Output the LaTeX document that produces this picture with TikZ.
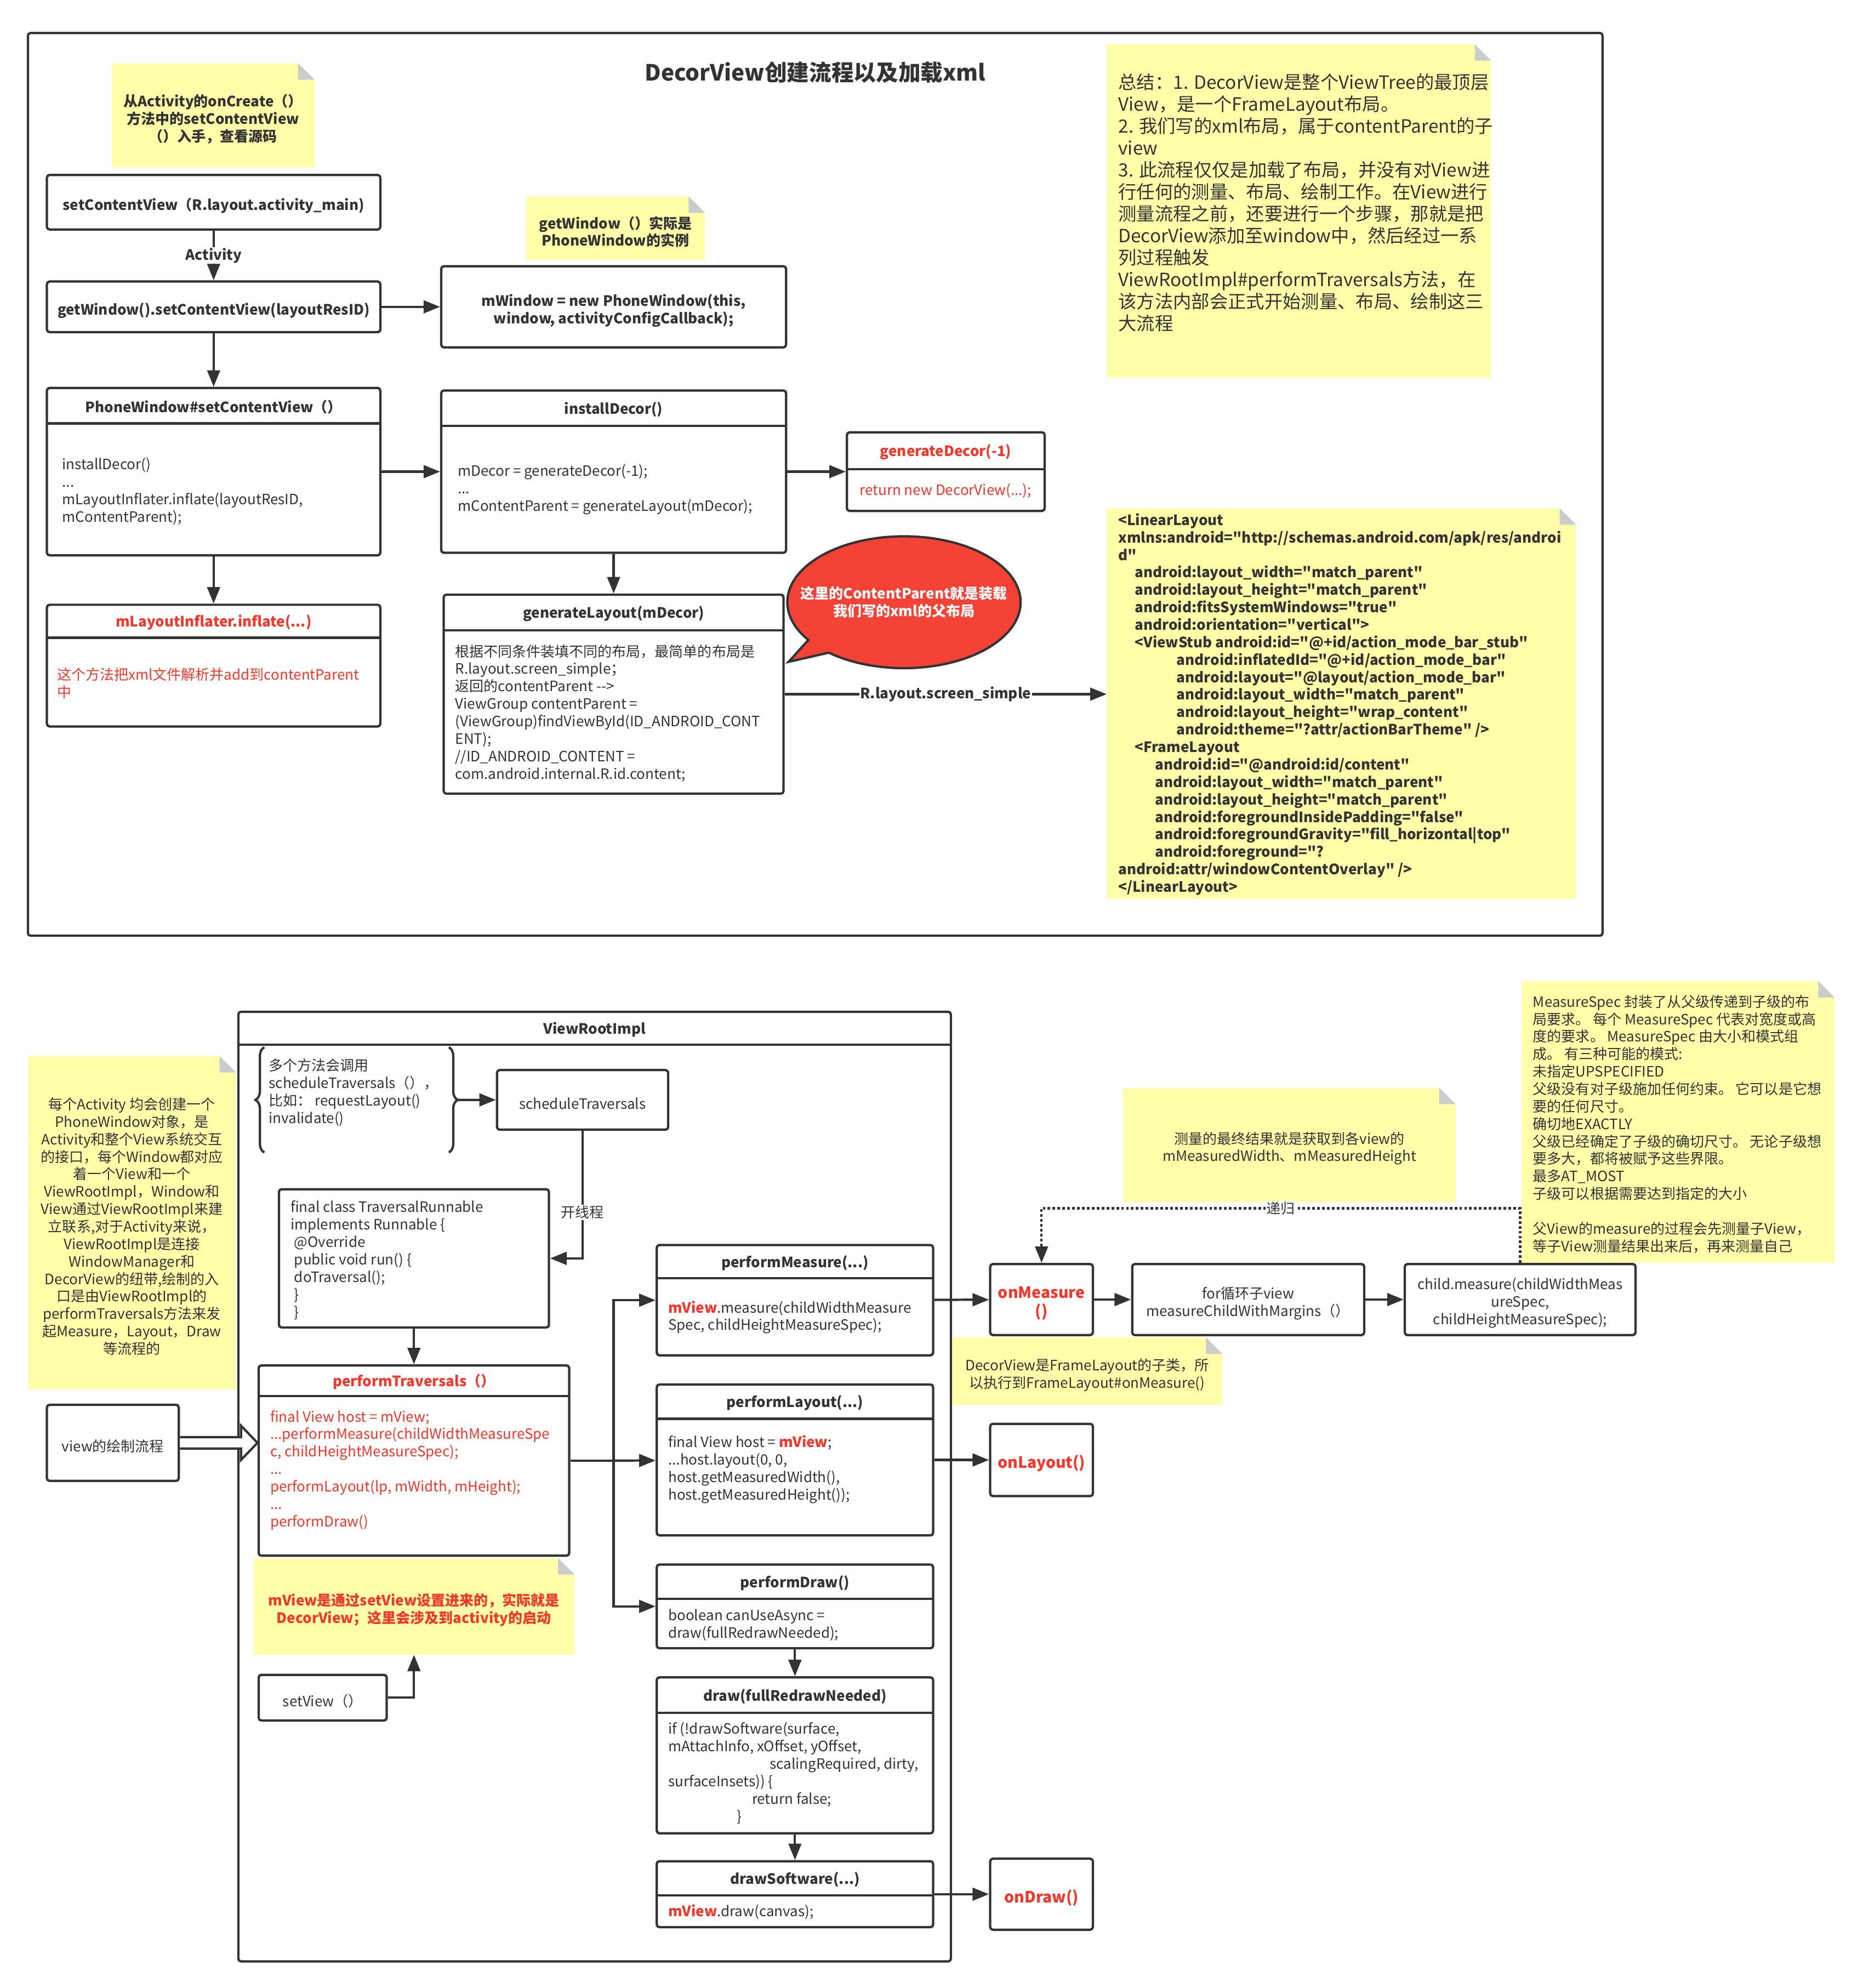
\documentclass[tikz,border=0pt]{standalone}
\usepackage{fontspec}
\setmainfont{Noto Sans CJK SC}
\usetikzlibrary{arrows.meta, fit, calc, shapes.callouts, decorations.pathreplacing}

\definecolor{linegray}{HTML}{333333}
\definecolor{noteyellow}{HTML}{FFFFAA}
\definecolor{foldgray}{HTML}{CCCCCC}
\definecolor{codered}{HTML}{F2382B}
\definecolor{bubblered}{HTML}{F44336}

\newcommand{\fsnorm}{\fontsize{16}{19.6}\selectfont}
\newcommand{\fssum}{\fontsize{20.5}{24.6}\selectfont}
\newcommand{\fstitle}{\fontsize{25}{30}\selectfont}
\newcommand{\fscall}{\fontsize{17.5}{21}\selectfont}
\newcommand{\mview}{{\color{codered}\bfseries mView}}
\newcommand{\qmark}{\textquotedbl}
% 便签右上角的折角
\newcommand{\foldnote}[1]{%
  \fill[white] ($(#1.north east)+(-13,0)$) -- (#1.north east) -- ($(#1.north east)+(0,13)$) -- cycle;
  \fill[foldgray] ($(#1.north east)+(-13,0)$) -- ($(#1.north east)+(-13,13)$) -- ($(#1.north east)+(0,13)$) -- cycle;}

\tikzset{
  outerframe/.style={draw=linegray, line width=2.6pt, rounded corners=3pt, inner sep=0pt},
  box/.style={draw=linegray, line width=2.6pt, rounded corners=3pt, fill=white, inner sep=0pt},
  note/.style={fill=noteyellow, inner sep=0pt},
  txt/.style={font=\fsnorm, align=center, yshift=-0.14cm},
  head/.style={font=\fsnorm\bfseries, inner sep=0pt, yshift=-0.05cm},
  body/.style={font=\fsnorm, align=left, anchor=west, inner sep=0pt},
  divider/.style={draw=linegray, line width=2.6pt},
  conn/.style={draw=linegray, line width=2.6pt},
  arr/.style={draw=linegray, line width=2.6pt, -{Triangle[length=0.65cm, width=0.5cm]}},
  recur/.style={draw=linegray, line width=2.6pt, dash pattern=on 3pt off 2.5pt, -{Triangle[length=0.65cm, width=0.5cm]}},
  curly/.style={draw=linegray, line width=2.6pt, decorate, decoration={brace, amplitude=0.35cm}},
  hollow/.style={draw=linegray, line width=2.6pt, fill=white, line join=miter},
}

\begin{document}
\begin{tikzpicture}[x=0.05cm, y=-0.05cm, every node/.style={text=linegray}]
\useasboundingbox (0,0) rectangle (1469,1568);

% ===== 上半部分：DecorView创建流程 =====
\node[outerframe, fit={(22,26) (1264,738)}] (topframe) {};
\node[font=\fstitle\bfseries] (title) at (643,57) {DecorView创建流程以及加载xml};

\node[note, fit={(88,50) (248,132)}] (startnote) {};
\foldnote{startnote}
\node[txt, font=\fsnorm\bfseries] (starttext) at (startnote) {从Activity的onCreate（）\\方法中的setContentView\\（）入手，查看源码};

\node[box, fit={(37,138) (300,181)}] (setcv) {};
\node[txt, font=\fsnorm\bfseries] (setcvtext) at (setcv) {setContentView（R.layout.activity\_main)};
\node[box, fit={(37,222) (300,262)}] (getwin) {};
\node[txt, font=\fsnorm\bfseries] (getwintext) at (getwin) {getWindow().setContentView(layoutResID)};
\draw[arr] (setcv) -- (getwin) node[midway, fill=white, font=\fsnorm\bfseries, inner sep=1pt] (actlabel) {Activity};

\node[note, fit={(415,155) (556,205)}] (winnote) {};
\foldnote{winnote}
\node[txt, font=\fsnorm\bfseries] (winnotetext) at (winnote) {getWindow（）实际是\\PhoneWindow的实例};
\node[box, fit={(348,210) (620,274)}] (newwin) {};
\node[txt, font=\fsnorm\bfseries] (newwintext) at (newwin) {mWindow = new PhoneWindow(this,\\window, activityConfigCallback);};
\draw[arr] (getwin) -- (newwin);

% PhoneWindow#setContentView
\node[box, fit={(37,306) (300,438)}] (pwset) {};
\draw[divider] (37,334) -- (300,334);
\node[head] (pwsethead) at (168.5,320) {PhoneWindow\#setContentView（）};
\node[body] (pwsetbody) at (49,387.5) {installDecor()\\...\\mLayoutInflater.inflate(layoutResID,\\mContentParent);};
\draw[arr] (getwin) -- (pwset);

% installDecor
\node[box, fit={(348,308) (620,436)}] (instdecor) {};
\draw[divider] (348,336) -- (620,336);
\node[head] (instdecorhead) at (484,322) {installDecor()};
\node[body] (instdecorbody) at (361,386) {mDecor = generateDecor(-1);\\...\\mContentParent = generateLayout(mDecor);};
\draw[arr] (pwset) -- (instdecor);

% generateDecor
\node[box, fit={(668,341) (824,403)}] (gendecor) {};
\draw[divider] (668,370) -- (824,370);
\node[head, text=codered] (gendecorhead) at (746,355.5) {generateDecor(-1)};
\node[body, text=codered] (gendecorbody) at (678,387) {return new DecorView(...);};
\draw[arr] (instdecor) -- (gendecor);

% generateLayout
\node[box, fit={(350,469) (618,626)}] (genlayout) {};
\draw[divider] (350,497) -- (618,497);
\node[head] (genlayouthead) at (484,483) {generateLayout(mDecor)};
\node[body] (genlayoutbody) at (359,562.5) {根据不同条件装填不同的布局，最简单的布局是\\R.layout.screen\_simple；\\返回的contentParent -{}->\\ViewGroup contentParent =\\(ViewGroup)findViewById(ID\_ANDROID\_CONT\\ENT);\\//ID\_ANDROID\_CONTENT =\\com.android.internal.R.id.content;};
\draw[arr] (instdecor) -- (genlayout);

% mLayoutInflater.inflate
\node[box, fit={(37,477) (300,573)}] (inflate) {};
\draw[divider] (37,503) -- (300,503);
\node[head, text=codered] (inflatehead) at (168.5,490) {mLayoutInflater.inflate(...)};
\node[body, text=codered] (inflatebody) at (45,539) {这个方法把xml文件解析并add到contentParent\\中};
\draw[arr] (pwset) -- (inflate);

% 气泡
\node[ellipse callout, fill=bubblered, draw=linegray, line width=2.6pt, minimum width=9.2cm, minimum height=5.2cm, inner sep=0pt, callout absolute pointer={(622,522)}] (bubble) at (713,475) {};
\node[font=\fsnorm\bfseries, text=white, align=center] (bubbletext) at (bubble.center) {这里的ContentParent就是装载\\我们写的xml的父布局};

% 总结
\node[note, fit={(873,35) (1176,298)}] (sumnote) {};
\foldnote{sumnote}
\node[body, font=\fssum] (sumtext) at (882,160) {总结：1. DecorView是整个ViewTree的最顶层\\View，是一个FrameLayout布局。\\2. 我们写的xml布局，属于contentParent的子\\view\\3. 此流程仅仅是加载了布局，并没有对View进\\行任何的测量、布局、绘制工作。在View进行\\测量流程之前，还要进行一个步骤，那就是把\\DecorView添加至window中，然后经过一系\\列过程触发\\ViewRootImpl\#performTraversals方法，在\\该方法内部会正式开始测量、布局、绘制这三\\大流程};

% screen_simple 布局
\node[note, fit={(873,401) (1243,709)}] (xmlnote) {};
\foldnote{xmlnote}
\node[body, font=\fsnorm\bfseries] (xmltext) at (882,555.5) {<LinearLayout\\
xmlns:android=\qmark http://schemas.android.com/apk/res/androi\\
d\qmark\\
\hspace*{0.65cm}android:layout\_width=\qmark match\_parent\qmark\\
\hspace*{0.65cm}android:layout\_height=\qmark match\_parent\qmark\\
\hspace*{0.65cm}android:fitsSystemWindows=\qmark true\qmark\\
\hspace*{0.65cm}android:orientation=\qmark vertical\qmark>\\
\hspace*{0.65cm}<ViewStub android:id=\qmark @+id/action\_mode\_bar\_stub\qmark\\
\hspace*{2.3cm}android:inflatedId=\qmark @+id/action\_mode\_bar\qmark\\
\hspace*{2.3cm}android:layout=\qmark @layout/action\_mode\_bar\qmark\\
\hspace*{2.3cm}android:layout\_width=\qmark match\_parent\qmark\\
\hspace*{2.3cm}android:layout\_height=\qmark wrap\_content\qmark\\
\hspace*{2.3cm}android:theme=\qmark ?attr/actionBarTheme\qmark\ />\\
\hspace*{0.65cm}<FrameLayout\\
\hspace*{1.45cm}android:id=\qmark @android:id/content\qmark\\
\hspace*{1.45cm}android:layout\_width=\qmark match\_parent\qmark\\
\hspace*{1.45cm}android:layout\_height=\qmark match\_parent\qmark\\
\hspace*{1.45cm}android:foregroundInsidePadding=\qmark false\qmark\\
\hspace*{1.45cm}android:foregroundGravity=\qmark fill\_horizontal|top\qmark\\
\hspace*{1.45cm}android:foreground=\qmark ?\\
android:attr/windowContentOverlay\qmark\ />\\
</LinearLayout>};
\draw[arr] (genlayout.east) -- (genlayout.east -| xmlnote.west) node[midway, fill=white, font=\fsnorm\bfseries, inner sep=1pt] (simplelabel) {R.layout.screen\_simple};

% ===== 下半部分：View的绘制流程 =====
\node[outerframe, fit={(188,798) (750,1547)}] (vrframe) {};
\draw[divider] (188,824) -- (750,824);
\node[head] (vrhead) at (469,811) {ViewRootImpl};

\node[note, fit={(22,833) (186,1096)}] (actnote) {};
\foldnote{actnote}
\node[txt] (actnotetext) at (actnote) {每个Activity 均会创建一个\\PhoneWindow对象，是\\Activity和整个View系统交互\\的接口，每个Window都对应\\着一个View和一个\\ViewRootImpl，Window和\\View通过ViewRootImpl来建\\立联系,对于Activity来说，\\ViewRootImpl是连接\\WindowManager和\\DecorView的纽带,绘制的入\\口是由ViewRootImpl的\\performTraversals方法来发\\起Measure，Layout，Draw\\等流程的};

\node[box, fit={(37,1108) (141,1168)}] (drawflow) {};
\node[txt] (drawflowtext) at (drawflow) {view的绘制流程};

% 调用 scheduleTraversals 的方法
\node[body] (calltext) at (212,861.5) {多个方法会调用\\scheduleTraversals（），\\比如： requestLayout()\\invalidate()};
\draw[curly] (208.5,909) -- (208.5,826);
\draw[curly] (354,826) -- (354,909);
\coordinate (bracetip) at (361,867.5);

\node[box, fit={(392,844) (527,891)}] (schedtrav) {};
\node[txt] (schedtravtext) at (schedtrav) {scheduleTraversals};
\draw[arr] (bracetip) -- (schedtrav);

\node[box, fit={(220,938) (433,1047)}] (travrun) {};
\node[body] (travruntext) at (229,994) {final class TraversalRunnable\\implements Runnable \{\\\hspace*{0.15cm}@Override\\\hspace*{0.15cm}public void run() \{\\\hspace*{0.15cm}doTraversal();\\\hspace*{0.15cm}\}\\\hspace*{0.15cm}\}};
\draw[arr] (schedtrav) |- (travrun) node[pos=0.32, fill=white, font=\fsnorm, inner sep=1pt] (threadlabel) {开线程};

% performTraversals
\node[box, fit={(204,1077) (449,1227)}] (perftrav) {};
\draw[divider] (204,1101) -- (449,1101);
\node[head, text=codered] (perftravhead) at (326.5,1089) {performTraversals（）};
\node[body, text=codered] (perftravbody) at (213,1159.5) {final View host = mView;\\...performMeasure(childWidthMeasureSpe\\c, childHeightMeasureSpec);\\...\\performLayout(lp, mWidth, mHeight);\\...\\performDraw()};
\draw[arr] (travrun) -- (perftrav);

% 空心箭头
\coordinate (hollowtip) at (perftrav.west |- drawflow.east);
\draw[hollow] ($(drawflow.east)+(0,-4.5)$) -- ($(hollowtip)+(-13,-4.5)$) -- ($(hollowtip)+(-13,-13.5)$) -- (hollowtip) -- ($(hollowtip)+(-13,13.5)$) -- ($(hollowtip)+(-13,4.5)$) -- ($(drawflow.east)+(0,4.5)$);

\node[note, fit={(200,1229) (453,1305)}] (mviewnote) {};
\foldnote{mviewnote}
\node[txt, font=\fsnorm\bfseries, text=codered] (mviewnotetext) at (mviewnote) {mView是通过setView设置进来的，实际就是\\DecorView；这里会涉及到activity的启动};
\node[box, fit={(204,1321) (305,1357)}] (setview) {};
\node[txt] (setviewtext) at (setview) {setView（）};
\draw[arr] (setview) -| (mviewnote);

% performMeasure / performLayout / performDraw
\node[box, fit={(518,982) (736,1069)}] (perfmeas) {};
\draw[divider] (518,1008) -- (736,1008);
\node[head] (perfmeashead) at (627,995) {performMeasure(...)};
\node[body] (perfmeasbody) at (527,1039) {\mview.measure(childWidthMeasure\\Spec, childHeightMeasureSpec);};

\node[box, fit={(518,1092) (736,1211)}] (perflay) {};
\draw[divider] (518,1119) -- (736,1119);
\node[head] (perflayhead) at (627,1105.5) {performLayout(...)};
\node[body] (perflaybody) at (527,1159) {final View host = \mview;\\...host.layout(0, 0,\\host.getMeasuredWidth(),\\host.getMeasuredHeight());};

\node[box, fit={(518,1234) (736,1300)}] (perfdraw) {};
\draw[divider] (518,1261) -- (736,1261);
\node[head] (perfdrawhead) at (627,1247.5) {performDraw()};
\node[body] (perfdrawbody) at (527,1281.5) {boolean canUseAsync =\\draw(fullRedrawNeeded);};

\node[box, fit={(518,1323) (736,1446)}] (drawfull) {};
\draw[divider] (518,1351) -- (736,1351);
\node[head] (drawfullhead) at (627,1337) {draw(fullRedrawNeeded)};
\node[body] (drawfullbody) at (527,1398.5) {if (!drawSoftware(surface,\\mAttachInfo, xOffset, yOffset,\\\hspace*{4cm}scalingRequired, dirty,\\surfaceInsets)) \{\\\hspace*{3.3cm}return false;\\\hspace*{2.7cm}\}};

\node[box, fit={(518,1468) (736,1520)}] (drawsoft) {};
\draw[divider] (518,1495) -- (736,1495);
\node[head] (drawsofthead) at (627,1481.5) {drawSoftware(...)};
\node[body] (drawsoftbody) at (527,1508) {\mview.draw(canvas);};

\coordinate (fork) at (484,1152);
\draw[conn] (perftrav) -- (fork);
\draw[arr] (fork) |- (perfmeas);
\draw[arr] (fork) -- (perflay);
\draw[arr] (fork) |- (perfdraw);
\draw[arr] (perfdraw) -- (drawfull);
\draw[arr] (drawfull) -- (drawsoft);

% onMeasure / onLayout / onDraw
\node[box, fit={(781,997) (862,1053)}] (onmeas) {};
\node[txt, font=\fscall\bfseries, text=codered] (onmeastext) at (onmeas) {onMeasure\\()};
\node[box, fit={(781,1123) (862,1180)}] (onlay) {};
\node[txt, font=\fscall\bfseries, text=codered] (onlaytext) at (onlay) {onLayout()};
\node[box, fit={(781,1466) (862,1522)}] (ondraw) {};
\node[txt, font=\fscall\bfseries, text=codered] (ondrawtext) at (ondraw) {onDraw()};
\draw[arr] (perfmeas) -- (onmeas);
\draw[arr] (perflay) -- (onlay);
\draw[arr] (drawsoft) -- (ondraw);

\node[box, fit={(893,997) (1076,1053)}] (forchild) {};
\node[txt] (forchildtext) at (forchild) {for循环子view\\measureChildWithMargins（）};
\node[box, fit={(1108,997) (1290,1053)}] (childmeas) {};
\node[txt] (childmeastext) at (childmeas) {child.measure(childWidthMeas\\ureSpec,\\childHeightMeasureSpec);};
\draw[arr] (onmeas) -- (forchild);
\draw[arr] (forchild) -- (childmeas);

% 便签
\node[note, fit={(886,858) (1148,948)}] (resultnote) {};
\foldnote{resultnote}
\node[txt] (resultnotetext) at (resultnote) {测量的最终结果就是获取到各view的\\mMeasuredWidth、mMeasuredHeight};
\node[note, fit={(1200,774) (1447,996)}] (specnote) {};
\foldnote{specnote}
\node[body] (spectext) at (1209,886.5) {MeasureSpec 封装了从父级传递到子级的布\\局要求。 每个 MeasureSpec 代表对宽度或高\\度的要求。 MeasureSpec 由大小和模式组\\成。 有三种可能的模式:\\未指定UPSPECIFIED\\父级没有对子级施加任何约束。 它可以是它想\\要的任何尺寸。\\确切地EXACTLY\\父级已经确定了子级的确切尺寸。 无论子级想\\要多大，都将被赋予这些界限。\\最多AT\_MOST\\子级可以根据需要达到指定的大小\\ \\父View的measure的过程会先测量子View，\\等子View测量结果出来后，再来测量自己};
\node[note, fit={(751,1055) (964,1108)}] (framenote) {};
\foldnote{framenote}
\node[txt] (framenotetext) at (framenote) {DecorView是FrameLayout的子类，所\\以执行到FrameLayout\#onMeasure()};

% 递归
\coordinate (recright) at (1199,953);
\coordinate (recleft) at (821.5,953);
\draw[recur] (childmeas.north) -- (recright) -- (recleft) node[midway, fill=white, font=\fsnorm, inner sep=1pt] (reclabel) {递归} -- (onmeas.north);
\end{tikzpicture}
\end{document}
